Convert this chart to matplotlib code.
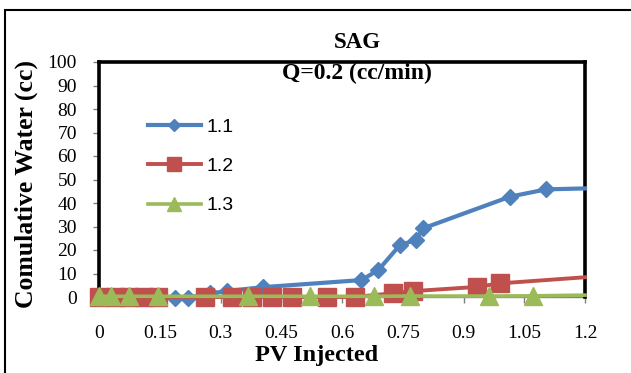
import matplotlib
matplotlib.use("Agg")
import matplotlib.pyplot as plt
from matplotlib.patches import Rectangle

# ---- data ----
x_11 = [0, 0.04, 0.075, 0.11, 0.145, 0.188, 0.22, 0.274, 0.315, 0.405, 0.648, 0.69, 0.743, 0.783, 0.80, 1.015, 1.104, 1.2]
y_11 = [0, 0, 0, 0, 0, -0.3, -0.3, 1.5, 2.5, 4.2, 7.2, 11.5, 22.1, 24.3, 29.2, 42.7, 45.8, 46.2]

x_12 = [0, 0.04, 0.075, 0.11, 0.145, 0.262, 0.328, 0.378, 0.427, 0.477, 0.563, 0.632, 0.726, 0.775, 0.934, 0.99, 1.2]
y_12 = [0, 0, 0, 0, 0, 0, 0, 0, 0, 0, 0, 0, 1.6, 2.5, 4.3, 5.8, 8.4]

x_13 = [0, 0.03, 0.075, 0.145, 0.367, 0.521, 0.68, 0.767, 0.963, 1.072, 1.2]
y_13 = [0.3, 0.3, 0.3, 0.3, 0.3, 0.3, 0.3, 0.4, 0.4, 0.5, 0.8]

labels = ["1.1", "1.2", "1.3"]
xticks = [0, 0.15, 0.3, 0.45, 0.6, 0.75, 0.9, 1.05, 1.2]
xticklabels = ["0", "0.15", "0.3", "0.45", "0.6", "0.75", "0.9", "1.05", "1.2"]
yticks = list(range(0, 101, 10))

title1 = "SAG"
title2 = "Q=0.2 (cc/min)"
xlabel = "PV Injected"
ylabel = "Comulative Water (cc)"

# ---- figure ----
W, H = 631, 373
fig = plt.figure(figsize=(W / 100, H / 100), dpi=100)
serif = "Liberation Serif"

def fx(px):
    return px / W

def fy(py):
    return 1 - py / H

ax = fig.add_axes([fx(99), fy(297), fx(585) - fx(99), fy(62) - fy(297)])

blue, red, green = "#4F81BD", "#C0504D", "#9BBB59"

ax.plot(x_11, y_11, color=blue, lw=3, marker="D", ms=8.5, markevery=list(range(len(x_11) - 1)),
        clip_on=False, zorder=3, label=labels[0])
ax.plot(x_12, y_12, color=red, lw=2.8, marker="s", ms=13.5, markevery=list(range(len(x_12) - 1)),
        clip_on=False, zorder=4, label=labels[1])
ax.plot(x_13, y_13, color=green, lw=2.6, marker="^", ms=13.5, markevery=list(range(len(x_13) - 1)),
        clip_on=False, zorder=5, label=labels[2])

ax.set_xlim(0, 1.2)
ax.set_ylim(0, 100)
ax.set_xticks(xticks)
ax.set_xticklabels(xticklabels, fontfamily=serif, fontsize=14)
ax.set_yticks(yticks)
ax.set_yticklabels([str(v) for v in yticks], fontfamily=serif, fontsize=14)
ax.tick_params(axis="x", direction="out", length=4, width=1, color="#808080", pad=16)
ax.tick_params(axis="y", direction="out", length=4, width=1, color="#808080", pad=12)

for s in ["top", "left", "right"]:
    ax.spines[s].set_color("black")
    ax.spines[s].set_linewidth(2.6)
ax.spines["bottom"].set_color("#808080")
ax.spines["bottom"].set_linewidth(1)
ax.spines["bottom"].set_zorder(1)

leg = ax.legend(loc="upper left", frameon=False, handlelength=2.7, labelspacing=1.12,
                handletextpad=0.3, borderpad=0, borderaxespad=0,
                markerscale=0.7, prop={"family": "Liberation Sans", "size": 14})
leg.set_bbox_to_anchor((fx(148), fy(118)), transform=fig.transFigure)

fig.text(fx(357), fy(42), title1, ha="center", va="center", fontfamily=serif,
         fontweight="bold", fontsize=16.5)
fig.text(fx(357), fy(73), title2, ha="center", va="center", fontfamily=serif,
         fontweight="bold", fontsize=17, zorder=10)
fig.text(fx(317), fy(355), xlabel, ha="center", va="center", fontfamily=serif,
         fontweight="bold", fontsize=17.5)
fig.text(fx(26), fy(184), ylabel, ha="center", va="center", rotation=90, fontfamily=serif,
         fontweight="bold", fontsize=18.5)

# outer chart border (extends beyond right/bottom edges)
fig.patches.append(Rectangle((fx(5), -0.1), 1.2, fy(10) + 0.1, transform=fig.transFigure,
                             fill=False, edgecolor="black", lw=1.5))

fig.savefig("out.png", dpi=100)
